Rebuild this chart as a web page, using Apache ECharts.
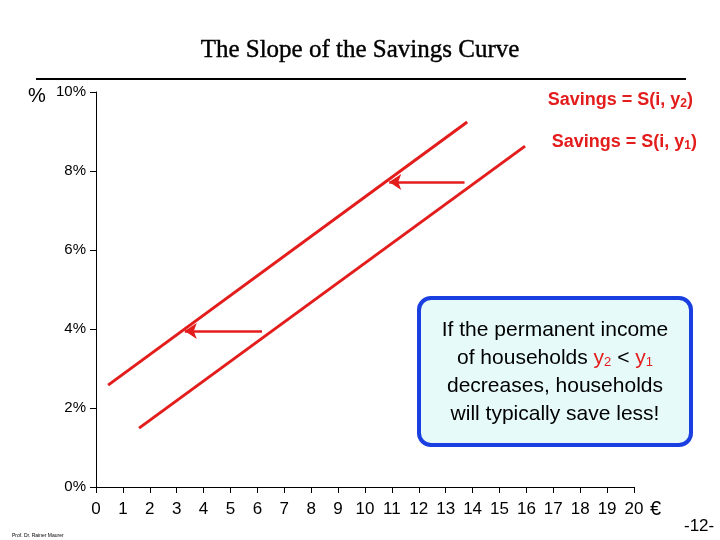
<!DOCTYPE html><html><head><meta charset="utf-8"><script src="https://cdn.jsdelivr.net/npm/echarts@6/dist/echarts.min.js"></script></head><body style="margin:0"><div id="c" style="width:720px;height:540px"></div><script>
const xTicks=[0,1,2,3,4,5,6,7,8,9,10,11,12,13,14,15,16,17,18,19,20];
const yTicks=[0,2,4,6,8,10];
const lineY2=[[0.45,2.58],[13.8,9.24]];
const lineY1=[[1.6,1.49],[15.95,8.63]];
const arrow1=[[13.7,7.72],[10.9,7.72]];
const arrow2=[[6.17,3.95],[3.3,3.95]];
const ch=echarts.init(document.getElementById('c'));
const red='#e31c1c';
const ln=(d)=>({type:'line',data:d,symbol:'none',lineStyle:{color:red,width:3},silent:true});
const ar=(d)=>({type:'lines',coordinateSystem:'cartesian2d',data:[{coords:d}],symbol:['none','arrow'],symbolSize:12,lineStyle:{color:red,width:2.5,opacity:1},silent:true});
ch.setOption({
animation:false,
title:{text:'The Slope of the Savings Curve',left:'center',top:33,textStyle:{fontFamily:'Liberation Serif',fontSize:25,fontWeight:'normal',color:'#000',textBorderColor:'#000',textBorderWidth:0.4}},
grid:{left:96,right:86,top:92,bottom:53},
xAxis:{type:'value',min:0,max:20,interval:1,axisLine:{onZero:false,lineStyle:{color:'#000'}},axisTick:{show:true,length:6,lineStyle:{color:'#000'}},splitLine:{show:false},axisLabel:{margin:14,fontFamily:'Liberation Sans',fontSize:17,color:'#000'}},
yAxis:{type:'value',min:0,max:10,interval:2,axisLine:{show:true,lineStyle:{color:'#000'}},axisTick:{show:true,length:6,lineStyle:{color:'#000'}},splitLine:{show:false},axisLabel:{formatter:'{value}%',margin:10,fontFamily:'Liberation Sans',fontSize:15,color:'#000'}},
series:[ln(lineY2),ln(lineY1),ar(arrow1),ar(arrow2)],
graphic:[
{type:'line',shape:{x1:36,y1:79,x2:686,y2:79},style:{stroke:'#000',lineWidth:2}},
{type:'text',left:28,top:86,style:{text:'%',fontSize:20,fontFamily:'Liberation Sans',fill:'#000'}},
{type:'text',left:650,top:499,style:{text:'€',fontSize:20,fontFamily:'Liberation Sans',fill:'#000'}},
{type:'text',left:684,top:518,style:{text:'-12-',fontSize:17,fontFamily:'Liberation Sans',fill:'#000'}},
{type:'text',left:12,top:533,style:{text:'Prof. Dr. Rainer Maurer',fontSize:5,fontFamily:'Liberation Sans',fill:'#000'}},
{type:'text',right:27,top:91,style:{rich:{a:{fontSize:18,fontWeight:'bold',fill:red,fontFamily:'Liberation Sans'},s:{fontSize:12,fontWeight:'bold',fill:red,fontFamily:'Liberation Sans',padding:[8,0,0,0]}},text:'{a|Savings = S(i, y}{s|2}{a|)}'}},
{type:'text',right:23,top:133,style:{rich:{a:{fontSize:18,fontWeight:'bold',fill:red,fontFamily:'Liberation Sans'},s:{fontSize:12,fontWeight:'bold',fill:red,fontFamily:'Liberation Sans',padding:[8,0,0,0]}},text:'{a|Savings = S(i, y}{s|1}{a|)}'}},
{type:'rect',shape:{x:419,y:298,width:272,height:147,r:12},style:{fill:'#e6fafa',stroke:'#1a3fe0',lineWidth:4}},
{type:'text',x:555,y:372,style:{align:'center',verticalAlign:'middle',rich:{a:{fontSize:21,fontFamily:'Liberation Sans',fill:'#000',lineHeight:28},r:{fontSize:21,fontFamily:'Liberation Sans',fill:red,lineHeight:28},s:{fontSize:13,fontFamily:'Liberation Sans',fill:red,padding:[8,0,0,0]}},text:'{a|If the permanent income}\n{a|of households }{r|y}{s|2}{a| < }{r|y}{s|1}\n{a|decreases, households}\n{a|will typically save less!}'}}
]});
</script></body></html>
